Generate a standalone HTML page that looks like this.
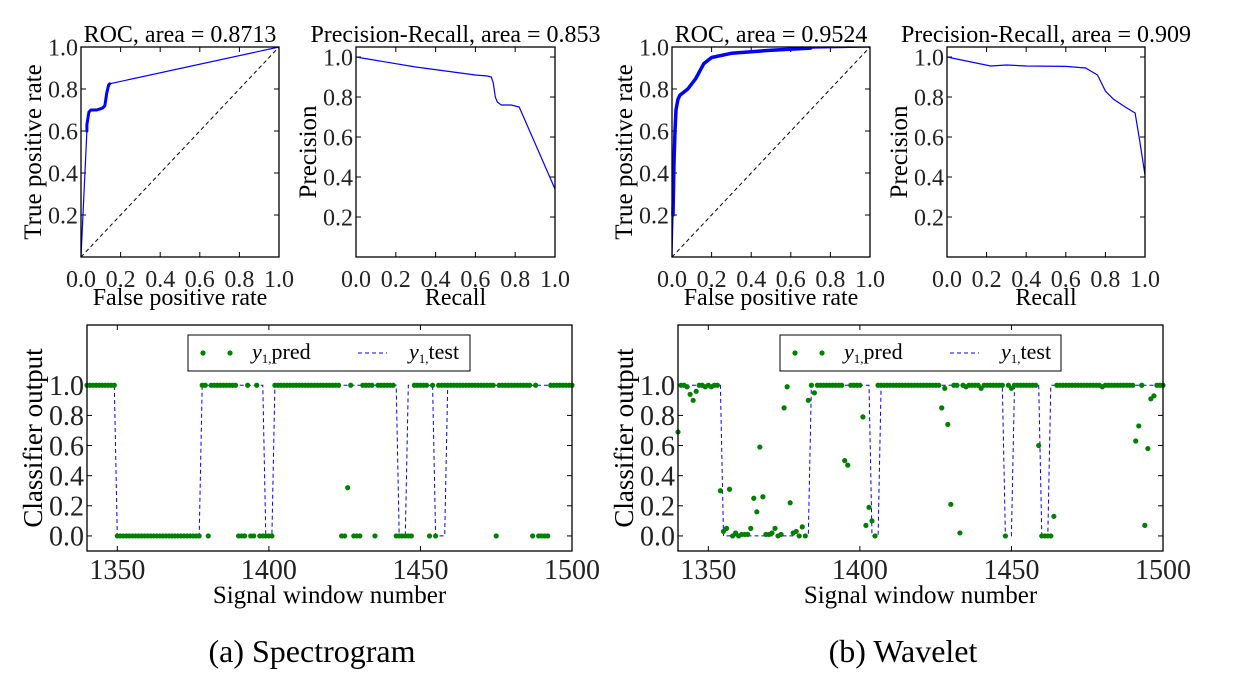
<!DOCTYPE html>
<html><head><meta charset="utf-8"><style>
body{margin:0;background:#fff;}
svg{display:block;font-family:"Liberation Serif","DejaVu Serif",serif;}
</style></head><body>
<svg id="fig" width="1249" height="679" viewBox="0 0 1249 679"></svg>
<script>
// ---- data ----
const rocSpecFpr=[0,0.03,0.03,0.035,0.04,0.05,0.08,0.11,0.12,0.125,0.13,0.14,0.145,1];
const rocSpecTpr=[0,0.60,0.63,0.66,0.69,0.70,0.70,0.71,0.72,0.75,0.78,0.82,0.825,1];
const prSpecRec=[0,0.3,0.6,0.66,0.68,0.69,0.70,0.71,0.73,0.78,0.82,1];
const prSpecPrec=[1.0,0.95,0.91,0.905,0.9,0.87,0.8,0.775,0.76,0.76,0.75,0.34];
const rocWavFpr=[0,0.005,0.01,0.015,0.02,0.03,0.04,0.08,0.12,0.16,0.2,0.3,0.5,0.7,1];
const rocWavTpr=[0,0.2,0.45,0.6,0.7,0.75,0.77,0.8,0.85,0.92,0.95,0.97,0.985,0.995,1];
const prWavRec=[0,0.22,0.3,0.4,0.6,0.7,0.76,0.8,0.84,0.9,0.95,0.97,1];
const prWavPrec=[1.0,0.955,0.96,0.955,0.953,0.945,0.91,0.83,0.79,0.75,0.72,0.6,0.41];
const winStart=1340;
const specTest=[1,1,1,1,1,1,1,1,1,1, 0,0,0,0,0,0,0,0,0,0, 0,0,0,0,0,0,0,0,0,0, 0,0,0,0,0,0,0,0,1,1,
1,1,1,1,1,1,1,1,1,1, 1,1,1,1,1,1,1,1,1,0, 0,0,1,1,1,1,1,1,1,1, 1,1,1,1,1,1,1,1,1,1, 1,1,1,1,1,1,1,1,1,1,
1,1,1,1,1,1,1,1,1,1, 1,1,1,0,0,0,1,1,1,1, 1,1,1,1,1,0,0,0,0,1, 1,1,1,1,1,1,1,1,1,1, 1,1,1,1,1,1,1,1,1,1,
1,1,1,1,1,1,1,1,1,1, 1,1,1,1,1,1,1,1,1,1, 1];
const specPred=[1,1,1,1,1,1,1,1,1,1, 0,0,0,0,0,0,0,0,0,0, 0,0,0,0,0,0,0,0,0,0, 0,0,0,0,0,0,0,0,1,1,
0,1,1,1,1,1,1,1,1,1, 0,0,0,1,0,0,1,0,0,0, 0,0,1,1,1,1,1,1,1,1, 1,1,1,1,1,1,1,1,1,1, 1,1,1,1,0,0,0.32,1,0,0,
0,1,1,1,1,0,1,1,1,1, 1,1,0,0,0,0,0,0,1,1, 1,1,1,0,1,0,1,1,1,1, 1,1,1,1,1,1,1,1,1,1, 1,1,1,1,1,0,1,1,1,1,
1,1,1,1,1,1,1,0,1,0, 0,0,0,1,1,1,1,1,1,1, 1];
const wavTest=[1,1,1,1,1,1,1,1,1,1, 1,1,1,1,1,0,0,0,0,0, 0,0,0,0,0,0,0,0,0,0, 0,0,0,0,0,0,0,0,0,0,
0,0,0,0,1,1,1,1,1,1, 1,1,1,1,1,1,1,1,1,1, 1,1,1,1,0,0,0,1,1,1, 1,1,1,1,1,1,1,1,1,1, 1,1,1,1,1,1,1,1,1,1,
1,1,1,1,1,1,1,1,1,1, 1,1,1,1,1,1,1,1,0,0, 0,1,1,1,1,1,1,1,1,1, 0,0,0,1,1,1,1,1,1,1, 1,1,1,1,1,1,1,1,1,1,
1,1,1,1,1,1,1,1,1,1, 1,1,1,1,1,1,1,1,1,1, 1];
const wavPred=[0.69,1,1,0.99,0.94,0.90,0.96,1,1,0.99, 1,0.99,1,1,0.30,0.03,0.05,0.31,0,0.02,
0,0.01,0.01,0.01,0.05,0.25,0.16,0.59,0.26,0.01, 0.01,0.02,0.05,0,0.01,0.85,0.99,0.22,0.02,0.03,
0,0.06,0,0.9,1,0.95,1,1,1,1, 1,1,1,1,1,0.5,0.47,1,1,1, 1,0.79,0.07,0.19,0.1,0,1,1,1,1,
1,1,1,1,1,1,1,1,1,1, 1,1,1,1,1,1,1,0.85,0.98,0.74, 0.21,1,1,0.02,1,0.99,1,1,1,1,
0.98,1,1,1,1,1,1,1,0,1, 0.98,1,1,1,1,1,1,1,1,0.6, 0,0,0,0,0.13,1,1,1,1,1, 1,1,1,1,1,1,1,1,1,1,
0.99,1,1,1,1,1,1,1,1,1, 1,0.63,0.73,1,0.07,0.58,0.91,0.93,1,1, 1];
const unitTicks=[0,0.2,0.4,0.6,0.8,1.0];
const unitTickLabels=["0.0","0.2","0.4","0.6","0.8","1.0"];
const outTicks=[0,0.2,0.4,0.6,0.8,1.0];
const outTickLabels=["0.0","0.2","0.4","0.6","0.8","1.0"];
const winTicks=[1350,1400,1450,1500];
const winTickLabels=["1350","1400","1450","1500"];

const NS="http://www.w3.org/2000/svg";
const svg=document.getElementById('fig');
function mk(tag,attrs,parent,text){const e=document.createElementNS(NS,tag);for(const k in attrs)e.setAttribute(k,attrs[k]);if(text!==undefined)e.textContent=text;(parent||svg).appendChild(e);return e;}
function scale(d0,d1,r0,r1){return v=>r0+(v-d0)/(d1-d0)*(r1-r0);}

function axes(name,L,R,T,B,xd,yd,o){
  const g=mk('g',{});
  
  
  const sx=scale(xd[0],xd[1],L,R), sy=scale(yd[0],yd[1],B,T);
  o.xt.forEach((v,i)=>{const x=sx(v);
    mk('line',{x1:x,y1:B,x2:x,y2:B-5,stroke:'#000','stroke-width':1},g);
    mk('line',{x1:x,y1:T,x2:x,y2:T+5,stroke:'#000','stroke-width':1},g);
    const t=mk('text',{x:x,y:B+o.xlOff,'text-anchor':'middle','font-size':o.tfs,fill:'#222'},g,o.xl[i]);
    
    
  });
  o.yt.forEach((v,i)=>{const y=sy(v);
    mk('line',{x1:L,y1:y,x2:L+5,y2:y,stroke:'#000','stroke-width':1},g);
    mk('line',{x1:R,y1:y,x2:R-5,y2:y,stroke:'#000','stroke-width':1},g);
    if(o.yl[i]!==''){const t=mk('text',{x:L-3,y:y+o.tfs*0.35,'text-anchor':'end','font-size':o.tfs,fill:'#222'},g,o.yl[i]);
    
    }
  });
  return {g,sx,sy,frame:()=>mk('rect',{x:L,y:T,width:R-L,height:B-T,fill:'none',stroke:'#000','stroke-width':1.3},g)};
}
function label(txt,x,y,fs,name,rot){
  const t=mk('text',{x:x,y:y,'text-anchor':'middle','font-size':fs,fill:'#000'},svg,txt);
  if(rot)t.setAttribute('transform',`rotate(-90 ${x} ${y})`);
  
  
  return t;
}
function curve(ax,xs,ys,name,thick){
  const pts=xs.map((v,i)=>ax.sx(v).toFixed(1)+','+ax.sy(ys[i]).toFixed(1)).join(' ');
  const p=mk('polyline',{points:pts,fill:'none',stroke:'#0000ff','stroke-width':1.2},ax.g);
  
  
  if(thick){
    const n=xs.length-1;
    const pts2=xs.slice(1,n).map((v,i)=>ax.sx(v).toFixed(1)+','+ax.sy(ys[i+1]).toFixed(1)).join(' ');
    const p2=mk('polyline',{points:pts2,fill:'none',stroke:'#0000ff','stroke-width':thick,'stroke-linejoin':'round','stroke-linecap':'round'},ax.g);
    
    
  }
}
function rocPanel(name,L,R,title,fx,ty,ylx,thick){
  const ax=axes(name,L,R,47,257,[0,1],[0,1],{xt:unitTicks,xl:unitTickLabels,yt:unitTicks,yl:['','0.2','0.4','0.6','0.8','1.0'],tfs:24,xlOff:30});
  mk('line',{x1:ax.sx(0),y1:ax.sy(0),x2:ax.sx(1),y2:ax.sy(1),stroke:'#000','stroke-width':1,'stroke-dasharray':'4,3'},ax.g);
  curve(ax,fx,ty,'roc-curve',thick);
  ax.frame();
  label(title,(L+R)/2,42,24,'roc-title');
  label('False positive rate',(L+R)/2,305,24,'x-axis-title');
  label('True positive rate',ylx,152,25,'y-axis-title',true);
}
function prPanel(name,L,R,title,rx,py,ylx){
  const ax=axes(name,L,R,47,257,[0,1],[0,1.05],{xt:unitTicks,xl:unitTickLabels,yt:unitTicks,yl:['','0.2','0.4','0.6','0.8','1.0'],tfs:24,xlOff:30});
  curve(ax,rx,py,'pr-curve',0);
  ax.frame();
  label(title,(L+R)/2,42,24,'pr-title');
  label('Recall',(L+R)/2,305,24,'x-axis-title');
  label('Precision',ylx,152,25,'y-axis-title',true);
}
function outPanel(name,L,R,test,pred,legL,legR,ylx){
  const ax=axes(name,L,R,325,551,[1340,1500],[-0.1,1.4],{xt:winTicks,xl:winTickLabels,yt:outTicks,yl:outTickLabels,tfs:28,xlOff:28});
  const pts=test.map((v,i)=>ax.sx(winStart+i).toFixed(1)+','+ax.sy(v).toFixed(1)).join(' ');
  const p=mk('polyline',{points:pts,fill:'none',stroke:'#0000ff','stroke-width':1,'stroke-dasharray':'4,3'},ax.g);
  
  
  pred.forEach((v,i)=>{const c=mk('circle',{cx:ax.sx(winStart+i),cy:ax.sy(v),r:2.6,fill:'#007f00'},ax.g);
    
    });
  ax.frame();
  const lg=mk('g',{});
  
  
  mk('rect',{x:legL,y:335,width:legR-legL,height:36,fill:'#fff',stroke:'#000','stroke-width':1},lg);
  mk('circle',{cx:legL+15,cy:353,r:2.6,fill:'#007f00'},lg);
  mk('circle',{cx:legL+42,cy:353,r:2.6,fill:'#007f00'},lg);
  const t1=mk('text',{x:legL+64,y:359,'font-size':22},lg);
  mk('tspan',{'font-style':'italic'},t1,'y');
  mk('tspan',{'font-size':13,dy:4},t1,'1,');
  mk('tspan',{dy:-4},t1,'pred');
  mk('line',{x1:legL+170,y1:353,x2:legL+199,y2:353,stroke:'#0000ff','stroke-width':1,'stroke-dasharray':'4,3'},lg);
  const t2=mk('text',{x:legL+221,y:359,'font-size':22},lg);
  mk('tspan',{'font-style':'italic'},t2,'y');
  mk('tspan',{'font-size':13,dy:4},t2,'1,');
  mk('tspan',{dy:-4},t2,'test');
  label('Signal window number',(L+R)/2,603,25,'x-axis-title');
  label('Classifier output',ylx,438,27,'y-axis-title',true);
}
rocPanel('roc-spectrogram',81,279,'ROC, area = 0.8713',rocSpecFpr,rocSpecTpr,41,3);
prPanel('pr-spectrogram',356,555,'Precision-Recall, area = 0.853',prSpecRec,prSpecPrec,316);
rocPanel('roc-wavelet',672,870,'ROC, area = 0.9524',rocWavFpr,rocWavTpr,632,3.5);
prPanel('pr-wavelet',947,1145,'Precision-Recall, area = 0.909',prWavRec,prWavPrec,907);
outPanel('output-spectrogram',87,572,specTest,specPred,188,470,42);
outPanel('output-wavelet',678,1163,wavTest,wavPred,780,1061,633);
label('(a) Spectrogram',312,662,32,'caption-a');
label('(b) Wavelet',903,662,32,'caption-b');
</script>
</body></html>
